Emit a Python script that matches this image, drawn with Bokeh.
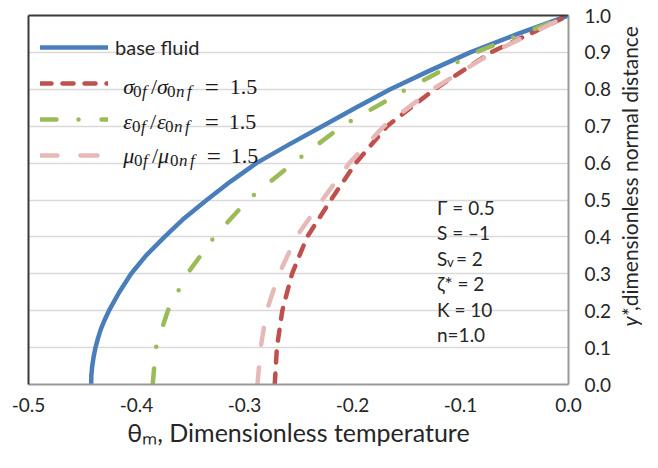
import math
from bokeh.plotting import figure
from bokeh.layouts import row
from bokeh.models import (Range1d, FixedTicker, NumeralTickFormatter, LinearAxis,
                          Legend, LegendItem, Label)
from bokeh.embed import file_html
from bokeh.resources import INLINE

# ---------------- data ----------------
base_y = [0.00, 0.025, 0.05, 0.075, 0.10, 0.125, 0.15, 0.175, 0.20, 0.25, 0.30, 0.35,
          0.40, 0.45, 0.50, 0.55, 0.60, 0.65, 0.70, 0.75, 0.80, 0.85, 0.90, 0.95, 1.00]
base_theta = [-0.4420, -0.4418, -0.4410, -0.4397, -0.4380, -0.4357, -0.4330, -0.4295,
              -0.4255, -0.416, -0.405, -0.391, -0.374, -0.356, -0.335, -0.313, -0.289,
              -0.259, -0.228, -0.197, -0.165, -0.129, -0.091, -0.047, 0.000]

y_pts = [0.0, 0.1, 0.2, 0.3, 0.4, 0.5, 0.6, 0.7, 0.8, 0.9, 1.0]
sigma_theta = [-0.272, -0.270, -0.265, -0.256, -0.242, -0.220, -0.197, -0.168, -0.124, -0.072, 0.000]
eps_theta = [-0.385, -0.382, -0.371, -0.353, -0.328, -0.297, -0.255, -0.210, -0.150, -0.086, 0.000]
mu_theta = [-0.288, -0.285, -0.2795, -0.268, -0.252, -0.228, -0.203, -0.171, -0.126, -0.070, 0.000]

x_ticks = [-0.5, -0.4, -0.3, -0.2, -0.1, 0.0]
y_ticks = [0.0, 0.1, 0.2, 0.3, 0.4, 0.5, 0.6, 0.7, 0.8, 0.9, 1.0]

x_title = "\u03b8\u2098, Dimensionless temperature"
y_title_var = "y*"
y_title_rest = ",dimensionless normal distance"
params = ["\u0393 = 0.5", "S = \u20131", None, "\u03b6* = 2", "K = 10", "n=1.0"]

BLUE, RED, GREEN, PINK = "#4A7EBB", "#C0504D", "#9BBB59", "#E6B9B8"
TXT = "#262626"

W_MAIN, W_SIDE, H = 614, 28, 452

p = figure(width=W_MAIN, height=H, x_range=Range1d(-0.5, 0.0), y_range=Range1d(0.0, 1.0),
           y_axis_location="right", output_backend="svg", toolbar_location=None,
           min_border_left=28, min_border_top=15, min_border_right=44, min_border_bottom=68)
p.outline_line_color = None
p.background_fill_color = "white"
p.border_fill_color = "white"

# axes
p.xaxis.ticker = FixedTicker(ticks=x_ticks)
p.yaxis.ticker = FixedTicker(ticks=y_ticks)
p.xaxis.formatter = NumeralTickFormatter(format="0.0")
p.yaxis.formatter = NumeralTickFormatter(format="0.0")
for ax in (p.xaxis[0], p.yaxis[0]):
    ax.major_tick_line_color = None
    ax.minor_tick_line_color = None
    ax.major_tick_out = 0
    ax.major_tick_in = 0
    ax.axis_line_color = "#999999"
    ax.axis_line_width = 2
    ax.major_label_text_font = "Lato"
    ax.major_label_text_font_size = "19px"
    ax.major_label_text_color = TXT
p.xaxis.major_label_standoff = 13
p.yaxis.major_label_standoff = 16
p.xaxis.axis_label = x_title
p.xaxis.axis_label_text_font = "Lato"
p.xaxis.axis_label_text_font_style = "normal"
p.xaxis.axis_label_text_color = TXT
p.xaxis.axis_label_text_font_size = "25px"
p.xaxis.axis_label_standoff = 2

for side in ("left", "above"):
    bax = LinearAxis(ticker=FixedTicker(ticks=[]), major_label_text_font_size="0px",
                     major_tick_line_color=None, minor_tick_line_color=None,
                     major_tick_out=0, major_label_standoff=0,
                     axis_line_color="#3a3a3a", axis_line_width=2)
    p.add_layout(bax, side)

p.xgrid.grid_line_color = None
p.ygrid.grid_line_color = "#d9d9d9"
p.ygrid.grid_line_width = 1.5

# curves
r_base = p.line(base_theta, base_y, line_color=BLUE, line_width=4.5, line_cap="round", line_join="round")
r_sig = p.line(sigma_theta, y_pts, line_color=RED, line_width=4.5, line_cap="round", line_dash="11 11")
r_eps = p.line(eps_theta, y_pts, line_color=GREEN, line_width=4.5, line_cap="round", line_dash="16 22 0 23")
r_mu = p.line(mu_theta, y_pts, line_color=PINK, line_width=4.5, line_cap="round", line_dash="17 23")

legend = Legend(items=[LegendItem(label="base fluid", renderers=[r_base]),
                       LegendItem(label=" ", renderers=[r_sig]),
                       LegendItem(label=" ", renderers=[r_eps]),
                       LegendItem(label=" ", renderers=[r_mu])],
                location=(12, 214), padding=0, margin=0, spacing=6,
                glyph_height=30, glyph_width=68, label_height=30, label_standoff=7,
                label_text_font="Lato", label_text_font_size="20px", label_text_color=TXT,
                background_fill_alpha=0, border_line_color=None)
p.add_layout(legend)

# ---------------- text helpers (reference px -> data) ----------------
FL, FR, FT, FB = 28.0, 570.0, 15.0, 384.0


def dx(px):
    return -0.5 + (px - FL) * 0.5 / (FR - FL)


def dy(py):
    return (FB - py) / (FB - FT)


def txt(px, py, s, size, font="Lato", style="normal", color=TXT):
    p.add_layout(Label(x=dx(px), y=dy(py), text=s, text_font=font,
                       text_font_size=f"{size}px", text_font_style=style,
                       text_align="left", text_baseline="alphabetic",
                       text_color=color))


SERIF = "Liberation Serif"
MC = "#1a1a1a"
rows = [("\u03c3", [123, 133, 142, 151, 157, 167, 176, 187, 205, 230], 86),
        ("\u03b5", [123, 132, 141, 150, 157, 165, 174, 185, 205, 229], 121),
        ("\u03bc", [123, 134, 143, 152, 158, 170, 179, 190, 207, 231], 155)]
for sym, xs, bl in rows:
    txt(xs[0], bl, sym, 22, SERIF, "italic", MC)
    txt(xs[1], bl + 5, "0", 17, SERIF, "normal", MC)
    txt(xs[2], bl + 5, "f", 17, SERIF, "italic", MC)
    txt(xs[3], bl, "/", 22, SERIF, "normal", MC)
    txt(xs[4], bl, sym, 22, SERIF, "italic", MC)
    txt(xs[5], bl + 5, "0", 17, SERIF, "normal", MC)
    txt(xs[6], bl + 5, "n", 17, SERIF, "italic", MC)
    txt(xs[7], bl + 5, "f", 17, SERIF, "italic", MC)
    txt(xs[8], bl + 1, "=", 25, SERIF, "normal", MC)
    txt(xs[9], bl, "1.5", 22, SERIF, "normal", MC)

for i, s in enumerate(params):
    bl = 206.5 + 25.5 * i
    if s is None:
        txt(438, bl, "S", 19)
        txt(448, bl + 4, "v", 13)
        txt(457, bl, "= 2", 19)
    else:
        txt(438, bl, s, 19)

# ---------------- side strip holding the rotated y title ----------------
p2 = figure(width=W_SIDE, height=H, x_range=Range1d(0, 1), y_range=Range1d(0, 1),
            x_axis_type=None, y_axis_type=None, output_backend="svg", toolbar_location=None,
            min_border=0, min_border_left=0, min_border_right=0, min_border_top=0,
            min_border_bottom=0, title=None)
p2.outline_line_color = None
p2.grid.grid_line_color = None
p2.background_fill_color = "white"
p2.border_fill_color = "white"


def side_txt(px, py, s, size, style="normal"):
    p2.add_layout(Label(x=(px - W_MAIN) / W_SIDE, y=(H - py) / H, text=s, text_font="Lato",
                        text_font_size=f"{size}px", text_font_style=style,
                        text_align="left", text_baseline="middle", angle=math.pi / 2,
                        text_color=TXT))


side_txt(629, 381, y_title_var, 21, "italic")
side_txt(629, 362, y_title_rest, 21)

open("out.html", "w").write(file_html(row(p, p2, spacing=0), INLINE))
